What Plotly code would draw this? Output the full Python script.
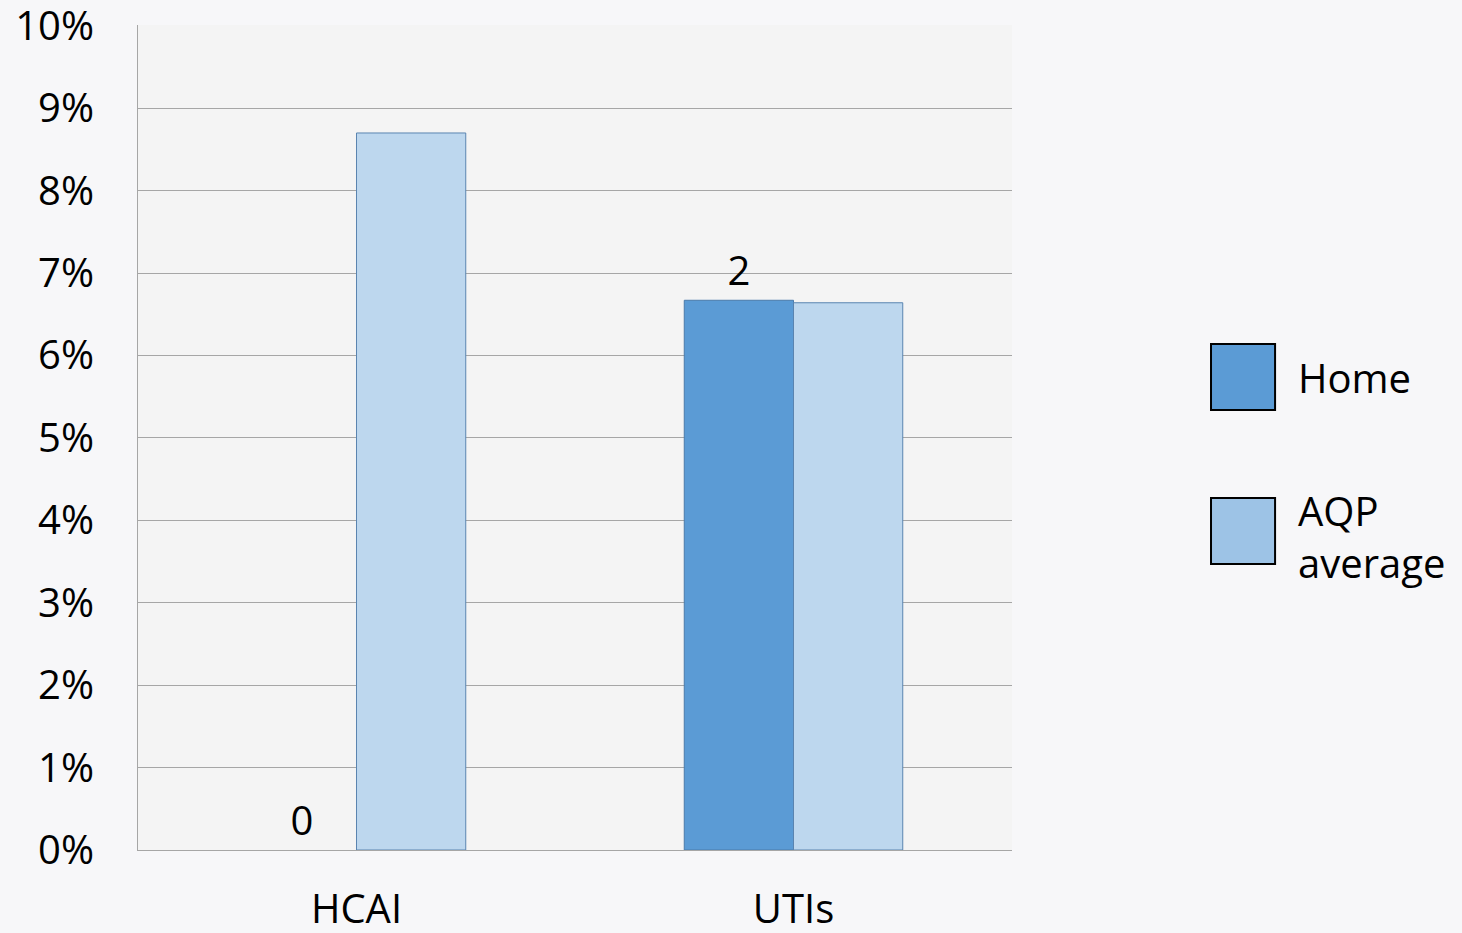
import plotly.graph_objects as go

categorias = ['HCAI', 'UTIs']
home = [0.0, 0.0667]
aqp_average = [0.0870, 0.0664]
home_labels = ['0', '2']
serie_nomes = ['Home', 'AQP<br>average']

cor_home = '#5b9bd5'
cor_aqp = '#bdd7ee'
cor_aqp_legenda = '#9dc3e6'
fonte = 'Open Sans'

fig = go.Figure()

fig.add_trace(go.Bar(
    x=categorias,
    y=home,
    name='Home',
    # sem contorno quando a barra é zero
    marker=dict(color=cor_home,
                line=dict(color='#4a7bab', width=[0 if v == 0 else 1 for v in home])),
    text=home_labels,
    textposition='outside',
    textfont=dict(size=40, color='black', family=fonte),
    cliponaxis=False,
    showlegend=False
))

fig.add_trace(go.Bar(
    x=categorias,
    y=aqp_average,
    name='AQP average',
    marker=dict(color=cor_aqp, line=dict(color='#5a84b0', width=1)),
    showlegend=False
))

# legenda desenhada à mão (quadrados grandes com borda preta)
legenda = [
    (serie_nomes[0], cor_home, 0.5333, 0.6133, 0.5733),
    (serie_nomes[1], cor_aqp_legenda, 0.3467, 0.4267, 0.3806),
]
for nome, cor, y0, y1, yt in legenda:
    fig.add_shape(type='rect', xref='paper', yref='paper',
                  x0=1.2277, x1=1.301, y0=y0, y1=y1,
                  fillcolor=cor, line=dict(color='black', width=2))
    fig.add_annotation(xref='paper', yref='paper', x=1.3255, y=yt,
                       text=nome, showarrow=False, xanchor='left', yanchor='middle',
                       align='left',
                       font=dict(size=40, color='black', family=fonte))

fig.update_layout(
    barmode='group',
    bargap=0.5,
    bargroupgap=0,
    width=1462,
    height=933,
    margin=dict(l=138, r=450, t=25, b=83),
    paper_bgcolor='#f7f7f9',
    plot_bgcolor='#f4f4f4',
    font=dict(family=fonte, size=40, color='black'),
    xaxis=dict(
        showline=True,
        linecolor='#a6a6a6',
        linewidth=1,
        showgrid=False,
        ticks='',
        ticklabelstandoff=24,
        ticklabeloverflow='allow',
        automargin=False,
        tickfont=dict(size=40, color='black', family=fonte)
    ),
    yaxis=dict(
        range=[0, 0.1001],
        tickvals=[i / 100 for i in range(11)],
        tickformat='.0%',
        showline=True,
        linecolor='#a6a6a6',
        linewidth=1,
        gridcolor='#a6a6a6',
        gridwidth=1,
        zeroline=False,
        ticks='',
        ticklabelstandoff=35,
        ticklabeloverflow='allow',
        automargin=False,
        tickfont=dict(size=40, color='black', family=fonte)
    )
)

fig.write_html('out.html', config={'displayModeBar': False},
               post_script="document.body.style.margin='0';")
